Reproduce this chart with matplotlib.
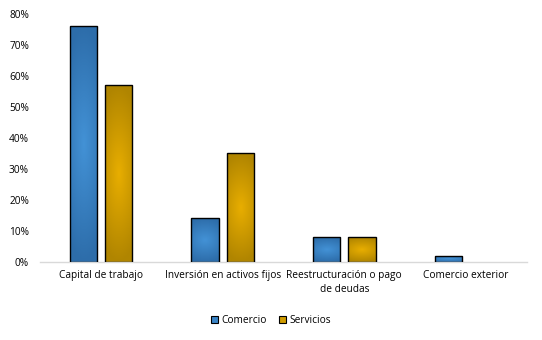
import numpy as np
import matplotlib
matplotlib.use("Agg")
import matplotlib.pyplot as plt
from matplotlib.colors import LinearSegmentedColormap
from matplotlib.patches import Patch

# datos
categorias = ["Capital de trabajo", "Inversión en activos fijos",
              "Reestructuración o pago\nde deudas", "Comercio exterior"]
comercio = [0.76, 0.14, 0.08, 0.02]
servicios = [0.57, 0.35, 0.08, 0.0]
series = ["Comercio", "Servicios"]

plt.rcParams['font.family'] = ['Open Sans', 'DejaVu Sans']

# colores degradado (borde oscuro, centro claro)
cmap_azul = LinearSegmentedColormap.from_list("azul", ["#4392D6", "#2D6DAA"])
cmap_oro = LinearSegmentedColormap.from_list("oro", ["#E8AE00", "#B08500"])


def barra_degradado(ax, bar, cmap):
    x0, y0 = bar.get_x(), bar.get_y()
    w, h = bar.get_width(), bar.get_height()
    if h <= 0:
        bar.set_edgecolor('none')
        return
    u = np.linspace(-1, 1, 40)
    v = np.linspace(-1, 1, 120)
    U, V = np.meshgrid(u, v)
    t = np.clip(np.sqrt(0.3 * U ** 2 + V ** 2), 0, 1)
    img = ax.imshow(t, cmap=cmap, extent=[x0, x0 + w, y0, y0 + h],
                    aspect='auto', origin='lower', zorder=2, vmin=0, vmax=1)
    img.set_clip_path(bar)


fig = plt.figure(figsize=(5.42, 3.40), dpi=100)
ax = fig.add_axes([0.074, 0.23, 0.898, 0.73])

x = np.arange(len(categorias))
ancho = 0.225
sep = 0.065
b1 = ax.bar(x - (ancho + sep) / 2, comercio, ancho, color='none',
            edgecolor='black', linewidth=1.0, zorder=3)
b2 = ax.bar(x + (ancho + sep) / 2, servicios, ancho, color='none',
            edgecolor='black', linewidth=1.0, zorder=3)
for bar in b1:
    barra_degradado(ax, bar, cmap_azul)
for bar in b2:
    barra_degradado(ax, bar, cmap_oro)

ax.set_xlim(-0.5, len(categorias) - 0.5)
ax.set_ylim(0, 0.80)
ax.set_yticks(np.arange(0, 0.81, 0.1))
ax.set_yticklabels([f"{int(round(v * 100))}%" for v in np.arange(0, 0.81, 0.1)])
ax.set_xticks(x)
ax.set_xticklabels(categorias, linespacing=1.3)
ax.tick_params(axis='both', length=0, labelsize=7.3, colors='#000000')
ax.tick_params(axis='x', pad=6)
ax.tick_params(axis='y', pad=8)
for s in ['top', 'right', 'left']:
    ax.spines[s].set_visible(False)
ax.spines['bottom'].set_color('#D9D9D9')
ax.spines['bottom'].set_linewidth(1.0)

handles = [Patch(facecolor='#3A84C6', edgecolor='black', linewidth=0.8),
           Patch(facecolor='#D09C00', edgecolor='black', linewidth=0.8)]
fig.legend(handles, series, loc='center', bbox_to_anchor=(0.5, 0.058), ncol=2,
           frameon=False, fontsize=7.3, handlelength=0.7, handleheight=0.7,
           handletextpad=0.3, columnspacing=1.2)

fig.savefig("out.png", dpi=100)
